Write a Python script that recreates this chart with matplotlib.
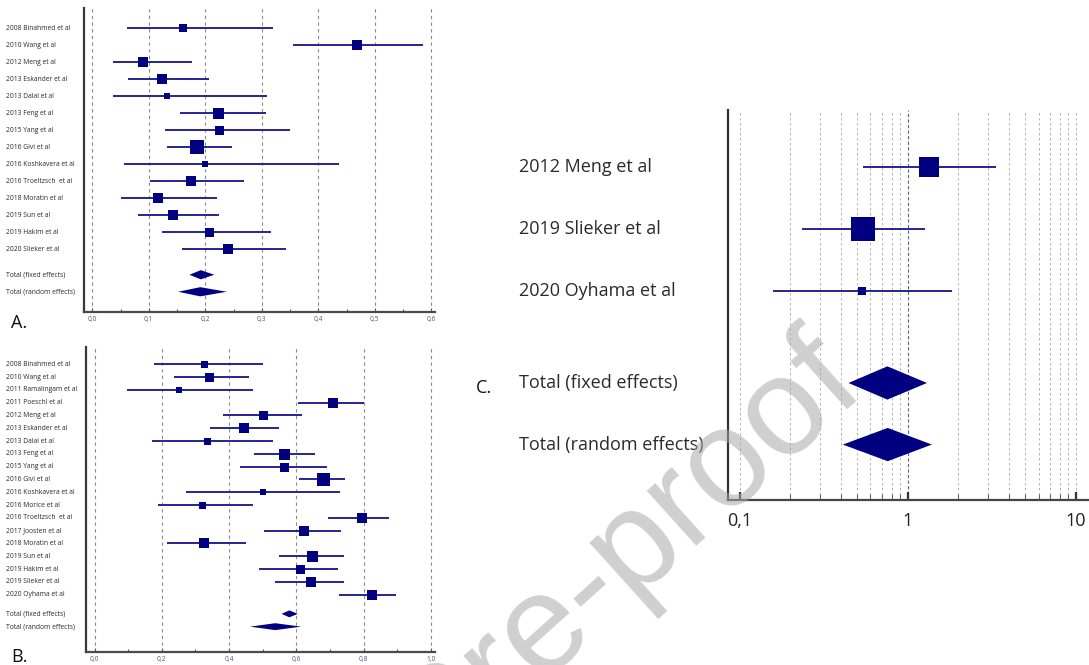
import numpy as np
import matplotlib.pyplot as plt
from matplotlib.transforms import blended_transform_factory
from matplotlib.ticker import FixedLocator, FixedFormatter, NullFormatter

# --------------------------------------------
# Data
# --------------------------------------------
labels_a = ['2008 Binahmed et al', '2010 Wang et al', '2012 Meng et al', '2013 Eskander et al',
            '2013 Dalal et al', '2013 Feng et al', '2015 Yang et al', '2016 Givi et al',
            '2016 Koshkavera et al', '2016 Troeltzsch  et al', '2018 Moratin et al',
            '2019 Sun et al', '2019 Hakim et al', '2020 Slieker et al']
est_a = [0.161, 0.468, 0.089, 0.123, 0.132, 0.223, 0.225, 0.185, 0.199, 0.174, 0.117, 0.142, 0.207, 0.241]
lo_a = [0.061, 0.355, 0.037, 0.064, 0.037, 0.155, 0.128, 0.133, 0.056, 0.103, 0.051, 0.081, 0.123, 0.158]
hi_a = [0.320, 0.585, 0.176, 0.206, 0.309, 0.307, 0.350, 0.248, 0.437, 0.268, 0.220, 0.225, 0.316, 0.342]
weight_a = [7.3, 9.3, 9.3, 10.7, 6.7, 11, 9, 13.3, 5.7, 10, 10, 10, 9, 10]
fixed_a = (0.172, 0.192, 0.216)
random_a = (0.152, 0.191, 0.238)
ticks_a = [0.0, 0.1, 0.2, 0.3, 0.4, 0.5, 0.6]
ticklabels_a = ['0,0', '0,1', '0,2', '0,3', '0,4', '0,5', '0,6']

labels_b = ['2008 Binahmed et al', '2010 Wang et al', '2011 Ramalingam et al', '2011 Poeschl et al',
            '2012 Meng et al', '2013 Eskander et al', '2013 Dalal et al', '2013 Feng et al',
            '2015 Yang et al', '2016 Givi et al', '2016 Koshkavera et al', '2016 Morice et al',
            '2016 Troeltzsch  et al', '2017 Joosten et al', '2018 Moratin et al', '2019 Sun et al',
            '2019 Hakim et al', '2019 Slieker et al', '2020 Oyhama et al']
est_b = [0.324, 0.341, 0.250, 0.710, 0.501, 0.444, 0.334, 0.564, 0.563, 0.679, 0.500, 0.318,
         0.794, 0.623, 0.324, 0.647, 0.610, 0.643, 0.824]
lo_b = [0.178, 0.237, 0.097, 0.605, 0.383, 0.342, 0.172, 0.474, 0.431, 0.609, 0.271, 0.190,
        0.695, 0.505, 0.215, 0.547, 0.490, 0.535, 0.727]
hi_b = [0.500, 0.459, 0.470, 0.801, 0.618, 0.549, 0.530, 0.655, 0.692, 0.745, 0.731, 0.472,
        0.874, 0.734, 0.450, 0.741, 0.723, 0.740, 0.897]
weight_b = [7, 9, 6, 10, 9, 10, 7, 11, 9, 13, 6, 7, 10, 10, 10, 11, 9, 10, 10]
fixed_b = (0.556, 0.579, 0.604)
random_b = (0.462, 0.537, 0.614)
ticks_b = [0.0, 0.2, 0.4, 0.6, 0.8, 1.0]
ticklabels_b = ['0,0', '0,2', '0,4', '0,6', '0,8', '1,0']

labels_c = ['2012 Meng et al', '2019 Slieker et al', '2020 Oyhama et al']
est_c = [1.33, 0.545, 0.535]
lo_c = [0.545, 0.236, 0.159]
hi_c = [3.35, 1.27, 1.83]
weight_c = [19.3, 23.3, 7.3]
fixed_c = (0.444, 0.756, 1.30)
random_c = (0.411, 0.760, 1.39)
ticks_c = [0.1, 1, 10]
ticklabels_c = ['0,1', '1', '10']

NAVY = '#000080'
CI = '#25258f'
W, H = 1089, 665

fig = plt.figure(figsize=(W / 100, H / 100), dpi=100)


def px_axes(left, top, right, bottom):
    # axes rectangle given in pixel coordinates of the reference
    return fig.add_axes([left / W, 1 - bottom / H, (right - left) / W, (bottom - top) / H])


def forest(ax, labels, est, lo, hi, weight, fixed, random, label_x, fs, ms_scale=0.72):
    n = len(labels)
    ys = np.arange(1, n + 1)
    ax.hlines(ys, lo, hi, color=CI, lw=1.4, zorder=3)
    for y, e, w in zip(ys, est, weight):
        ax.plot(e, y, marker='s', ms=w * ms_scale, color=NAVY, mec=NAVY, mew=0, zorder=4)
    tr = blended_transform_factory(fig.transFigure, ax.transData)
    for y, lab in zip(ys, labels):
        ax.text(label_x / W, y, lab, transform=tr, ha='left', va='center',
                fontsize=fs, color='#2a2a2a')
    h = 0.27
    for y, (l, e, r), lab in [(n + 1.5, fixed, 'Total (fixed effects)'),
                              (n + 2.5, random, 'Total (random effects)')]:
        ax.fill([l, e, r, e], [y, y - h, y, y + h], color=NAVY, lw=0, zorder=4)
        ax.text(label_x / W, y, lab, transform=tr, ha='left', va='center',
                fontsize=fs, color='#2a2a2a')
    for s in ['top', 'right']:
        ax.spines[s].set_visible(False)
    return ys


# --------------------------------------------
# Panel A
# --------------------------------------------
ax_a = px_axes(84, 8, 435, 312)
forest(ax_a, labels_a, est_a, lo_a, hi_a, weight_a, fixed_a, random_a, 6, 4.9)
ax_a.set_xlim(-0.0147, 0.6066)
ax_a.set_ylim(17.69, -0.19)
ax_a.set_yticks([])
ax_a.xaxis.set_major_locator(FixedLocator(ticks_a))
ax_a.xaxis.set_major_formatter(FixedFormatter(ticklabels_a))
ax_a.xaxis.set_minor_locator(FixedLocator(np.arange(0.05, 0.6, 0.1)))
for x in ticks_a:
    ax_a.axvline(x, color='#8a8a8a', lw=0.8, ls=(0, (3, 3)), zorder=1)

# --------------------------------------------
# Panel B
# --------------------------------------------
ax_b = px_axes(86, 347, 435, 652)
forest(ax_b, labels_b, est_b, lo_b, hi_b, weight_b, fixed_b, random_b, 6, 4.9)
ax_b.set_xlim(-0.0255, 1.012)
ax_b.set_ylim(23.48, -0.35)
ax_b.set_yticks([])
ax_b.xaxis.set_major_locator(FixedLocator(ticks_b))
ax_b.xaxis.set_major_formatter(FixedFormatter(ticklabels_b))
ax_b.xaxis.set_minor_locator(FixedLocator(np.arange(0.1, 1.0, 0.2)))
for x in ticks_b:
    ax_b.axvline(x, color='#8a8a8a', lw=0.8, ls=(0, (3, 3)), zorder=1)

for ax in (ax_a, ax_b):
    ax.spines['left'].set_linewidth(1.6)
    ax.spines['left'].set_color('#3a3a3a')
    ax.spines['bottom'].set_linewidth(1.6)
    ax.spines['bottom'].set_color('#4a4a4a')
    ax.tick_params(axis='x', which='major', direction='in', length=3, width=0.8,
                   color='#555555', labelsize=4.8, labelcolor='#4a5a7a', pad=3)
    ax.tick_params(axis='x', which='minor', direction='in', length=2.5, width=0.8, color='#555555')

# --------------------------------------------
# Panel C (log scale)
# --------------------------------------------
ax_c = px_axes(728, 110, 1089, 500)
ax_c.set_xscale('log')
forest(ax_c, labels_c, est_c, lo_c, hi_c, weight_c, fixed_c, random_c, 519, 13)
ax_c.set_xlim(0.0853, 11.95)
ax_c.set_ylim(6.40, 0.068)
ax_c.set_yticks([])
ax_c.xaxis.set_major_locator(FixedLocator(ticks_c))
ax_c.xaxis.set_major_formatter(FixedFormatter(ticklabels_c))
minor_c = [m * d for d in (0.1, 1) for m in range(2, 10)]
ax_c.xaxis.set_minor_locator(FixedLocator(minor_c))
ax_c.xaxis.set_minor_formatter(NullFormatter())
for x in ticks_c + minor_c:
    if x == 1:
        ax_c.axvline(x, color='#6060a8', lw=0.8, ls=(0, (3, 2)), zorder=1)
    else:
        ax_c.axvline(x, color='#a8a8a8', lw=0.6, ls=(0, (3, 3)), zorder=1)
ax_c.spines['left'].set_linewidth(1.6)
ax_c.spines['left'].set_color('#333333')
ax_c.spines['bottom'].set_linewidth(1.6)
ax_c.spines['bottom'].set_color('#444444')
ax_c.tick_params(axis='x', which='major', direction='in', length=6, width=1.6,
                 color='#333333', labelsize=13, labelcolor='#222222', pad=9)
ax_c.tick_params(axis='x', which='minor', direction='in', length=4, width=0.8, color='#666666')

for t in ax_a.get_xticklabels() + ax_b.get_xticklabels() + ax_c.get_xticklabels():
    t.set_fontfamily('Open Sans')
for ax in (ax_a, ax_b, ax_c):
    for t in ax.texts:
        t.set_fontfamily('Open Sans')

# panel letters
fig.text(11 / W, 1 - 323 / H, 'A.', fontsize=13, family='Open Sans', va='center', color='#111111')
fig.text(11 / W, 1 - 657 / H, 'B.', fontsize=13, family='Open Sans', va='center', color='#111111')
fig.text(476 / W, 1 - 388 / H, 'C.', fontsize=13, family='Open Sans', va='center', color='#111111')

# watermark
fig.text(868 / W, 1 - 392 / H, 'Journal Pre-proof', fontsize=100, family='Liberation Sans',
         color='#a8a8a8', alpha=0.55, rotation=42, rotation_mode='anchor',
         ha='right', va='baseline', zorder=10)

fig.savefig('out.png', dpi=100)
